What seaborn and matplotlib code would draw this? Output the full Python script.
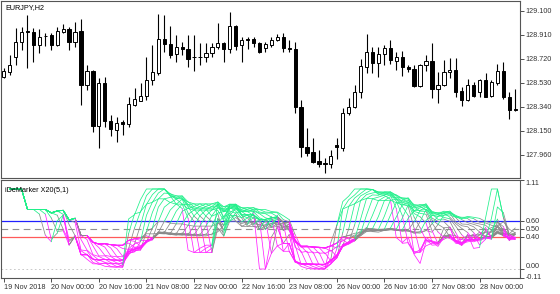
import numpy as np
import pandas as pd
import matplotlib
matplotlib.use("Agg")
import matplotlib.pyplot as plt
import matplotlib.transforms as mtransforms
import seaborn as sns

# ---------------- data ----------------
symbol_title = "EURJPY,H2"
indicator_title = "iDeMarker X20(5,1)"

opens = [128.579, 128.618, 128.737, 128.856, 128.938, 128.930, 128.830, 128.903, 128.909, 128.830,
         128.936, 128.954, 128.856, 128.944, 128.512, 128.624, 128.187, 128.531, 128.229, 128.155,
         128.216, 128.203, 128.354, 128.388, 128.425, 128.552, 128.610, 128.875, 128.838, 128.756,
         128.811, 128.796, 128.737, 128.733, 128.732, 128.764, 128.811, 128.848, 128.796, 128.981,
         128.830, 128.878, 128.875, 128.843, 128.803, 128.830, 128.870, 128.891, 128.806, 128.798,
         128.341, 128.018, 127.978, 127.907, 127.891, 127.883, 128.034, 128.010, 128.288, 128.341,
         128.460, 128.658, 128.777, 128.684, 128.759, 128.809, 128.706, 128.737, 128.653, 128.637,
         128.505, 128.671, 128.706, 128.478, 128.512, 128.613, 128.632, 128.465, 128.393, 128.512,
         128.454, 128.552, 128.425, 128.531, 128.624, 128.415, 128.319]
highs = [128.645, 128.751, 128.962, 128.975, 129.068, 128.962, 128.954, 128.922, 128.922, 128.975,
         128.994, 128.970, 129.015, 129.034, 128.671, 128.631, 128.565, 128.579, 128.274, 128.256,
         128.235, 128.420, 128.486, 128.526, 128.732, 128.830, 129.076, 129.068, 128.981, 128.909,
         128.856, 128.909, 128.909, 128.843, 128.843, 128.843, 129.002, 128.856, 129.094, 128.989,
         128.896, 128.891, 128.891, 128.856, 128.856, 128.891, 128.915, 128.922, 128.870, 128.856,
         128.393, 128.169, 128.089, 127.997, 127.931, 127.997, 128.089, 128.327, 128.407, 128.512,
         128.716, 128.917, 128.817, 128.817, 128.830, 128.870, 128.777, 128.785, 128.671, 128.671,
         128.679, 128.751, 128.848, 128.618, 128.711, 128.724, 128.724, 128.494, 128.557, 128.539,
         128.557, 128.605, 128.552, 128.679, 128.692, 128.460, 128.478]
lows = [128.565, 128.592, 128.671, 128.790, 128.645, 128.698, 128.764, 128.825, 128.790, 128.825,
        128.922, 128.790, 128.817, 128.354, 128.473, 128.142, 128.010, 128.182, 128.108, 128.063,
        128.116, 128.182, 128.346, 128.385, 128.393, 128.512, 128.592, 128.777, 128.724, 128.698,
        128.751, 128.658, 128.626, 128.671, 128.698, 128.737, 128.796, 128.698, 128.769, 128.790,
        128.698, 128.798, 128.817, 128.764, 128.777, 128.817, 128.864, 128.777, 128.777, 128.288,
        127.944, 127.949, 127.891, 127.864, 127.817, 127.851, 127.923, 127.991, 128.274, 128.327,
        128.412, 128.610, 128.605, 128.573, 128.671, 128.676, 128.631, 128.584, 128.618, 128.494,
        128.499, 128.626, 128.407, 128.372, 128.505, 128.565, 128.420, 128.346, 128.388, 128.415,
        128.415, 128.415, 128.415, 128.512, 128.399, 128.240, 128.309]
closes = [128.624, 128.671, 128.856, 128.936, 128.933, 128.830, 128.896, 128.905, 128.830, 128.941,
          128.954, 128.856, 128.936, 128.510, 128.624, 128.187, 128.531, 128.229, 128.161, 128.213,
          128.206, 128.362, 128.399, 128.425, 128.552, 128.618, 128.875, 128.835, 128.751, 128.811,
          128.796, 128.716, 128.733, 128.735, 128.764, 128.817, 128.848, 128.796, 128.981, 128.822,
          128.870, 128.870, 128.843, 128.772, 128.835, 128.870, 128.891, 128.803, 128.798, 128.335,
          128.018, 127.975, 127.904, 127.885, 127.883, 127.952, 128.018, 128.288, 128.341, 128.460,
          128.663, 128.777, 128.690, 128.759, 128.809, 128.711, 128.737, 128.658, 128.637, 128.505,
          128.671, 128.706, 128.478, 128.512, 128.618, 128.632, 128.460, 128.393, 128.512, 128.428,
          128.552, 128.420, 128.536, 128.624, 128.415, 128.314, 128.312]

time_tick_pos = [0, 8, 16, 24, 32, 40, 48, 56, 64, 72, 80]
time_tick_labels = ["19 Nov 2018", "20 Nov 00:00", "20 Nov 16:00", "21 Nov 08:00",
                    "22 Nov 00:00", "22 Nov 16:00", "23 Nov 08:00", "26 Nov 00:00",
                    "26 Nov 16:00", "27 Nov 08:00", "28 Nov 00:00"]
price_ticks = [129.100, 128.910, 128.720, 128.530, 128.340, 128.150, 127.960]
osc_ticks = [1.11, 0.60, 0.50, 0.40, 0.00, -0.11]

start_period = 5
period_step = 1
n_lines = 20
high_level = 0.60
mid_level = 0.50
low_level = 0.40

# ---------------- indicator (DeMarker, periods 5..24) ----------------
h = pd.Series(highs)
l = pd.Series(lows)
demax = (h - h.shift(1)).clip(lower=0)
demin = (l.shift(1) - l).clip(lower=0)

rows = []
unit = 0
for k in range(n_lines):
    N = start_period + k * period_step
    a = demax.rolling(N, min_periods=1).mean()
    b = demin.rolling(N, min_periods=1).mean()
    dem = (a / (a + b)).to_numpy()
    idx = [i for i in range(len(dem)) if not np.isnan(dem[i])]
    cls_prev = None
    run = []
    for j in range(1, len(idx)):
        i0, i1 = idx[j - 1], idx[j]
        v = dem[i1]
        c = "high" if v > high_level else ("low" if v < low_level else "mid")
        if c != cls_prev:
            if run:
                for (xx, yy) in run:
                    rows.append((xx, yy, unit, cls_prev))
                unit += 1
            run = [(i0, dem[i0])]
            cls_prev = c
        run.append((i1, v))
    if run:
        for (xx, yy) in run:
            rows.append((xx, yy, unit, cls_prev))
        unit += 1
osc = pd.DataFrame(rows, columns=["x", "y", "unit", "cls"])

# ---------------- figure ----------------
sns.set_style("white")
plt.rcParams["font.family"] = ["Liberation Sans", "DejaVu Sans"]

fig = plt.figure(figsize=(5.6, 2.94), dpi=100)
ax1 = fig.add_axes([0.0018, 0.3946, 0.9268, 0.6020])
ax2 = fig.add_axes([0.0018, 0.0544, 0.9268, 0.3334])

n = len(opens)
x = np.arange(n)
o = np.array(opens); c = np.array(closes)
body_bottom = np.minimum(o, c)
body_h = np.abs(c - o)
body_col = ["white" if cc > oo else "black" for oo, cc in zip(o, c)]

ax1.vlines(x, lows, highs, color="black", lw=0.8, zorder=2)
ax1.bar(x, body_h, bottom=body_bottom, width=0.55, color=body_col,
        edgecolor="black", linewidth=0.7, zorder=3)

xlim = (-0.45, 86.8)
ax1.set_xlim(*xlim)
ax1.set_ylim(127.775, 129.179)
ax1.set_xticks([])
ax1.yaxis.tick_right()
ax1.set_yticks(price_ticks)
ax1.set_yticklabels([f"{p:.3f}" for p in price_ticks])
ax1.tick_params(axis="y", direction="out", length=3, width=0.6, pad=1,
                labelsize=5.2, colors="#333333", right=True)
ax1.text(0.008, 0.985, symbol_title, transform=ax1.transAxes, fontsize=5.2,
         va="top", ha="left", color="black")

# levels
ax2.axhline(high_level, color="#2020ff", lw=0.9, zorder=1)
ax2.axhline(low_level, color="#ff5a5a", lw=0.9, zorder=1)
ax2.axhline(mid_level, color="#909090", lw=0.8, ls=(0, (6, 4)), zorder=1)
ax2.axhline(0.0, color="#c0c0c0", lw=0.6, ls=(0, (2, 3)), zorder=1)

sns.lineplot(data=osc, x="x", y="y", units="unit", hue="cls", estimator=None,
             hue_order=["mid", "low", "high"],
             palette={"high": "#20f08a", "mid": "#8a8a8a", "low": "#ff22ff"},
             sort=False, legend=False, lw=0.55, ax=ax2, zorder=2)

ax2.set_xlim(*xlim)
ax2.set_ylim(-0.1125, 1.1125)
ax2.set_xlabel("")
ax2.set_ylabel("")
ax2.yaxis.tick_right()
ax2.set_yticks(osc_ticks)
ax2.set_yticklabels([f"{v:.2f}" for v in osc_ticks])
ax2.tick_params(axis="y", direction="out", length=3, width=0.6, pad=1,
                labelsize=5.2, colors="#333333", right=True)
ylabs = ax2.get_yticklabels()
ylabs[0].set_va("top")
ylabs[-2].set_va("bottom")
ylabs[-2].set_transform(ylabs[-2].get_transform() +
                        mtransforms.ScaledTranslation(0, -1 / 100, fig.dpi_scale_trans))
ylabs[-1].set_va("center")
ax2.set_xticks(time_tick_pos)
ax2.set_xticklabels(time_tick_labels, ha="left")
ax2.tick_params(axis="x", direction="out", length=3, width=0.6, pad=1,
                labelsize=5.2, colors="#333333", bottom=True)
ax2.text(0.008, 0.93, indicator_title, transform=ax2.transAxes, fontsize=5.2,
         va="top", ha="left", color="black")

for ax in (ax1, ax2):
    for s in ax.spines.values():
        s.set_color("#555555")
        s.set_linewidth(0.8)

fig.savefig("out.png", dpi=100)
